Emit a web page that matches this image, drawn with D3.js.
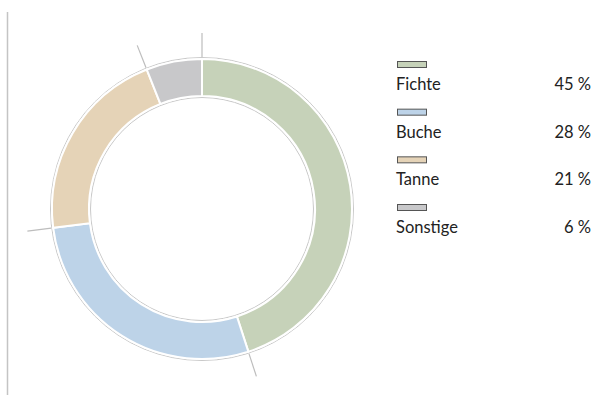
<!DOCTYPE html>
<html>
<head>
<meta charset="utf-8">
<script src="https://cdn.jsdelivr.net/npm/d3@7"></script>
<style>
  body { margin: 0; background: #fff; }
  text { font-family: Lato, "Open Sans", sans-serif; fill: #222; }
</style>
</head>
<body>
<script>
const species = ['Fichte', 'Buche', 'Tanne', 'Sonstige']
const shares = [45, 28, 21, 6]
const colors = ['#c6d2b9', '#bdd3e8', '#e5d3b7', '#c8c8ca']

const width = 595
const height = 407
const cx = 202
const cy = 209

const svg = d3.select('body')
  .append('svg')
  .attr('width', width)
  .attr('height', height)

// left rule
svg.append('line')
  .attr('x1', 7.5).attr('x2', 7.5)
  .attr('y1', 12).attr('y2', 395)
  .attr('stroke', '#c4c4c4')
  .attr('stroke-width', 1.5)

const pie = d3.pie().sort(null)(shares)
const arc = d3.arc().innerRadius(113).outerRadius(150)

const g = svg.append('g').attr('transform', `translate(${cx},${cy})`)

g.append('circle').attr('r', 151.5)
  .attr('fill', 'none').attr('stroke', '#c8c8c8').attr('stroke-width', 1)
g.append('circle').attr('r', 111.5)
  .attr('fill', 'none').attr('stroke', '#c8c8c8').attr('stroke-width', 1)

g.selectAll('path.slice')
  .data(pie)
  .enter()
  .append('path')
  .attr('class', 'slice')
  .attr('d', arc)
  .attr('fill', (d, i) => colors[i])
  .attr('stroke', '#fff')
  .attr('stroke-width', 2)

// ticks at slice starts
g.selectAll('line.tick')
  .data(pie)
  .enter()
  .append('line')
  .attr('class', 'tick')
  .attr('x1', d => 152 * Math.sin(d.startAngle))
  .attr('y1', d => -152 * Math.cos(d.startAngle))
  .attr('x2', d => 176 * Math.sin(d.startAngle))
  .attr('y2', d => -176 * Math.cos(d.startAngle))
  .attr('stroke', '#bdbdbd')
  .attr('stroke-width', 1.2)

// legend
const legend = svg.append('g')
const rowY = d3.scalePoint().domain(species).range([61, 204])

const rows = legend.selectAll('g')
  .data(species)
  .enter()
  .append('g')
  .attr('transform', d => `translate(0,${rowY(d)})`)

rows.append('rect')
  .attr('x', 397.5).attr('y', 0.5)
  .attr('width', 29).attr('height', 6)
  .attr('fill', (d, i) => colors[i])
  .attr('stroke', '#555')
  .attr('stroke-width', 1)

rows.append('text')
  .attr('x', 396).attr('y', 29)
  .attr('font-size', 16.5)
  .text(d => d)

rows.append('text')
  .attr('x', 591).attr('y', 29)
  .attr('font-size', 16.5)
  .attr('text-anchor', 'end')
  .text((d, i) => shares[i] + ' %')
</script>
</body>
</html>
